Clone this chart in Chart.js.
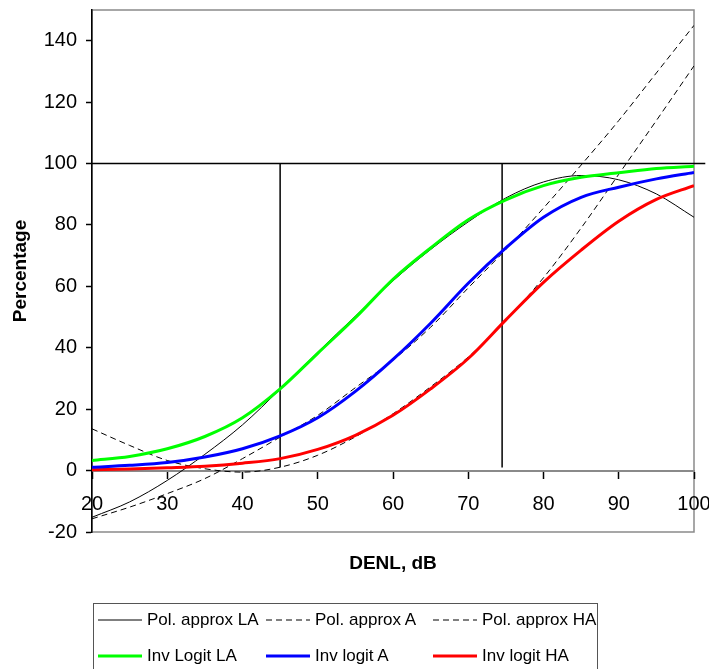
<!DOCTYPE html>
<html>
<head>
<meta charset="utf-8">
<script src="https://cdn.jsdelivr.net/npm/chart.js@4.4.0/dist/chart.umd.min.js"></script>
<style>
html, body { margin: 0; padding: 0; background: #fff; }
#wrap { position: relative; width: 709px; height: 669px; overflow: hidden; }
#legend {
  position: absolute; left: 93px; top: 603px; width: 505px; height: 72px;
  border: 1px solid #555; box-sizing: border-box; background: #fff;
  font-family: "Liberation Sans", Arial, sans-serif; font-size: 17px; color: #000;
}
#legend .grid { display: grid; grid-template-columns: 168px 167px 160px; grid-auto-rows: 36px; margin: -2px 0 0 4px; }
#legend .item { display: flex; align-items: center; white-space: nowrap; }
#legend canvas { margin-right: 5px; }
</style>
</head>
<body>
<div id="wrap">
  <canvas id="chart" width="709" height="669"></canvas>
  <div id="legend"><div class="grid" id="legendGrid"></div></div>
</div>
<script>
// x values (DENL, dB)
var denl = [20, 25, 30, 35, 40, 45, 50, 55, 60, 65, 70, 75, 80, 85, 90, 95, 100];

// polynomial approximations
var polLA = [-15.2, -10.2, -3.2, 5.3, 14.9, 26.5, 38.6, 50.3, 61.8, 72, 81, 88.8, 94, 96.1, 94.7, 90.1, 82.5];
var polA  = [-15.7, -11.9, -7.5, -2.6, 3.9, 10.9, 18, 27, 36, 46.7, 59.5, 72, 85.5, 99.5, 114, 129.5, 145];
var polHA = [13.6, 8.2, 3.3, 0.6, -0.5, 1.1, 5, 11, 18.5, 27.3, 37, 49, 62.8, 79, 96.5, 114, 131.8];

// inverse logit curves
var invLA = [3.3, 4.6, 7.1, 11.1, 17.2, 26.6, 38.2, 49.8, 62.3, 72.5, 81.7, 88.2, 92.8, 95.5, 97, 98.4, 99.1];
var invA  = [1.1, 1.7, 2.6, 4.4, 7.1, 11.3, 17.2, 25.8, 36.2, 48, 61, 72.5, 82.5, 89, 92.3, 95, 97.1];
var invHA = [0.3, 0.5, 0.9, 1.4, 2.4, 3.9, 6.9, 11.5, 18, 26.6, 36.5, 49.1, 61.3, 71.8, 81.2, 88.3, 92.8];

// reference lines
var refLevel = 100;
var refLevelEnd = 101.5;
var refX = [45, 74.5];
var refBottom = 1;

var yTicks = [-20, 0, 20, 40, 60, 80, 100, 120, 140];

function pairs(xs, ys) {
  return xs.map(function (x, i) { return { x: x, y: ys[i] }; });
}

// keep label overhang from pushing the plot area in
function noPad(s) {
  s.paddingTop = 0; s.paddingBottom = 0; s.paddingLeft = 0; s.paddingRight = 0;
}

Chart.defaults.font.family = '"Liberation Sans", Arial, sans-serif';
Chart.defaults.color = '#000';

// grey frame round the plot area
var framePlugin = {
  id: 'frame',
  beforeDraw: function (chart) {
    var a = chart.chartArea, ctx = chart.ctx;
    ctx.save();
    ctx.strokeStyle = '#8a8a8a';
    ctx.lineWidth = 1.5;
    ctx.strokeRect(a.left, a.top, a.right - a.left, a.bottom - a.top);
    ctx.restore();
  }
};

var curve = { pointRadius: 0, fill: false, cubicInterpolationMode: 'monotone' };

var datasets = [
  Object.assign({ label: 'Pol. approx LA', data: pairs(denl, polLA), borderColor: '#000', backgroundColor: '#000', borderWidth: 1, order: 2 }, curve),
  Object.assign({ label: 'Pol. approx A', data: pairs(denl, polA), borderColor: '#000', backgroundColor: '#000', borderWidth: 1, borderDash: [6, 4], order: 2 }, curve),
  Object.assign({ label: 'Pol. approx HA', data: pairs(denl, polHA), borderColor: '#000', backgroundColor: '#000', borderWidth: 1, borderDash: [6, 4], order: 2 }, curve),
  Object.assign({ label: 'Inv Logit LA', data: pairs(denl, invLA), borderColor: '#00ff00', backgroundColor: '#00ff00', borderWidth: 3, order: 1 }, curve),
  Object.assign({ label: 'Inv logit A', data: pairs(denl, invA), borderColor: '#0000ff', backgroundColor: '#0000ff', borderWidth: 3, order: 1 }, curve),
  Object.assign({ label: 'Inv logit HA', data: pairs(denl, invHA), borderColor: '#ff0000', backgroundColor: '#ff0000', borderWidth: 3, order: 1 }, curve),
  { label: 'ref100', data: [{ x: denl[0], y: refLevel }, { x: refLevelEnd, y: refLevel }], borderColor: '#000', borderWidth: 1.5, pointRadius: 0, clip: false, order: 3 },
  { label: 'ref1', data: [{ x: refX[0], y: refBottom }, { x: refX[0], y: refLevel }], borderColor: '#000', borderWidth: 1.5, pointRadius: 0, order: 3 },
  { label: 'ref2', data: [{ x: refX[1], y: refBottom }, { x: refX[1], y: refLevel }], borderColor: '#000', borderWidth: 1.5, pointRadius: 0, order: 3 }
];

var chart = new Chart(document.getElementById('chart').getContext('2d'), {
  type: 'line',
  data: { datasets: datasets },
  plugins: [framePlugin],
  options: {
    responsive: false,
    animation: false,
    devicePixelRatio: 1,
    layout: { padding: { top: 10, right: 15, bottom: 87, left: 0 } },
    plugins: { legend: { display: false }, tooltip: { enabled: false } },
    scales: {
      x: {
        type: 'linear', min: 20, max: 100,
        position: { y: 0 },
        ticks: { stepSize: 10, font: { size: 20 }, padding: 15, color: '#000', maxRotation: 0 },
        grid: { drawOnChartArea: false, tickLength: 7, tickColor: '#000', tickWidth: 1.5 },
        border: { color: '#8a8a8a', width: 2 },
        afterFit: noPad
      },
      x2: {
        type: 'linear', min: 20, max: 100, position: 'bottom',
        ticks: { display: false },
        grid: { display: false },
        border: { display: false },
        title: { display: true, text: 'DENL, dB', font: { size: 19, weight: 'bold' }, padding: { top: 0, bottom: 7 }, color: '#000' },
        afterFit: function (s) { noPad(s); s.height = 50; }
      },
      y: {
        type: 'linear', min: -20, max: 150,
        afterBuildTicks: function (s) { s.ticks = yTicks.map(function (v) { return { value: v }; }); },
        ticks: { font: { size: 20 }, padding: 9, color: '#000' },
        grid: { drawOnChartArea: false, tickLength: 6, tickColor: '#000', tickWidth: 1.5 },
        border: { color: '#000', width: 1.5 },
        title: { display: true, text: 'Percentage', font: { size: 19, weight: 'bold' }, padding: { top: 9, bottom: 0 }, color: '#000' },
        afterFit: function (s) { noPad(s); s.width = 92; }
      }
    }
  }
});

// legend built from the chart's own dataset styles, in dataset order
var legendNames = ['Pol. approx LA', 'Pol. approx A', 'Pol. approx HA', 'Inv Logit LA', 'Inv logit A', 'Inv logit HA'];
var items = Chart.defaults.plugins.legend.labels.generateLabels(chart).filter(function (it) {
  return legendNames.indexOf(it.text) >= 0;
});
items.sort(function (a, b) { return a.datasetIndex - b.datasetIndex; });
var grid = document.getElementById('legendGrid');
items.forEach(function (it) {
  var div = document.createElement('div');
  div.className = 'item';
  var c = document.createElement('canvas');
  c.width = 44; c.height = 10;
  var g = c.getContext('2d');
  g.strokeStyle = it.strokeStyle;
  g.lineWidth = it.lineWidth;
  g.setLineDash(it.lineDash || []);
  g.beginPath(); g.moveTo(0, 5); g.lineTo(44, 5); g.stroke();
  div.appendChild(c);
  var span = document.createElement('span');
  span.textContent = it.text;
  div.appendChild(span);
  grid.appendChild(div);
});
</script>
</body>
</html>
